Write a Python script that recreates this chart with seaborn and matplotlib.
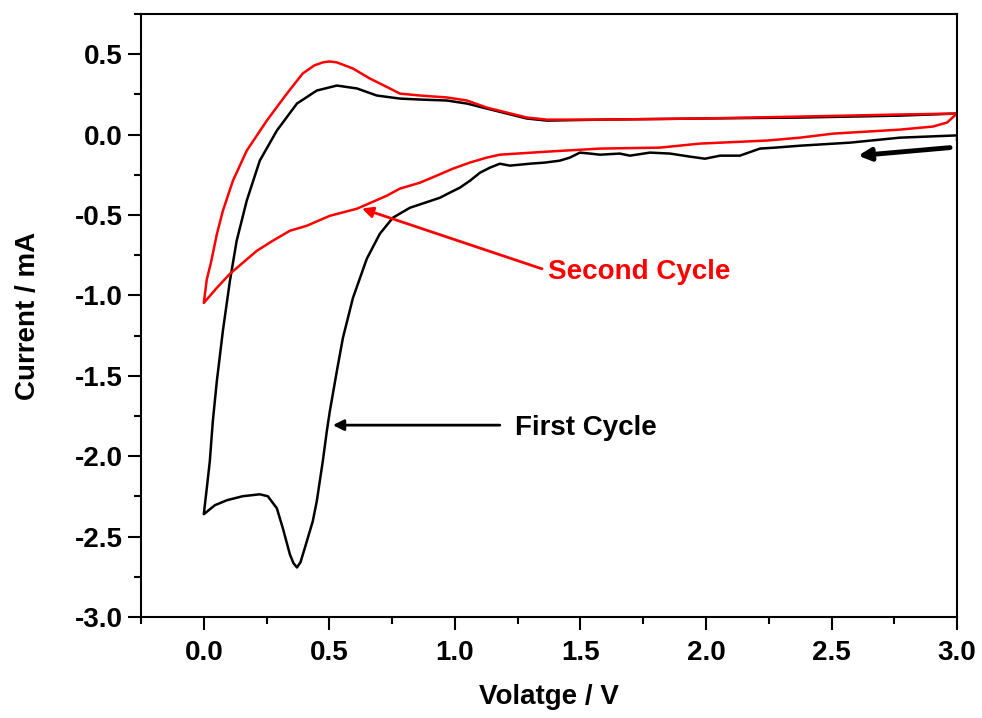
import numpy as np
import pandas as pd
import matplotlib
matplotlib.use("Agg")
import matplotlib.pyplot as plt
from matplotlib.ticker import MultipleLocator
import seaborn as sns

# first cycle (black), in scan order starting at 3.0 V
first_v = [3.0, 3.0, 2.773, 2.574, 2.375, 2.275, 2.215, 2.135, 2.056, 1.996, 1.936,
           1.857, 1.777, 1.697, 1.657, 1.578, 1.538, 1.498, 1.458, 1.418, 1.359,
           1.299, 1.219, 1.179, 1.139, 1.100, 1.060, 1.020, 0.980, 0.940, 0.821,
           0.753, 0.701, 0.649, 0.594, 0.554, 0.530, 0.502, 0.490, 0.474, 0.450,
           0.434, 0.402, 0.385, 0.371, 0.357, 0.343, 0.315, 0.291, 0.255, 0.223,
           0.155, 0.092, 0.044, 0.0,
           0.012, 0.024, 0.036, 0.052, 0.076, 0.104, 0.131, 0.171, 0.223, 0.291,
           0.371, 0.450, 0.530, 0.610, 0.689, 0.781, 0.861, 0.968, 1.048, 1.127,
           1.207, 1.287, 1.367, 1.578, 1.976, 2.375, 2.773, 3.0]
first_i = [-0.04, -0.005, -0.019, -0.050, -0.069, -0.081, -0.087, -0.131, -0.131, -0.150, -0.137,
           -0.118, -0.112, -0.131, -0.118, -0.125, -0.118, -0.112, -0.143, -0.162, -0.174,
           -0.181, -0.193, -0.181, -0.206, -0.237, -0.287, -0.330, -0.361, -0.393, -0.455,
           -0.517, -0.617, -0.773, -1.016, -1.265, -1.470, -1.720, -1.844, -2.031, -2.280,
           -2.405, -2.573, -2.660, -2.692, -2.665, -2.611, -2.449, -2.324, -2.249, -2.237,
           -2.249, -2.274, -2.305, -2.361,
           -2.199, -2.031, -1.782, -1.533, -1.221, -0.910, -0.660, -0.411, -0.162, 0.025,
           0.193, 0.274, 0.305, 0.287, 0.243, 0.224, 0.218, 0.212, 0.193, 0.162,
           0.131, 0.100, 0.087, 0.093, 0.100, 0.106, 0.118, 0.131]

# second cycle (red)
second_v = [3.0, 2.960, 2.904, 2.773, 2.506, 2.375, 2.243, 1.976, 1.817, 1.578, 1.367,
            1.179, 1.127, 1.060, 0.992, 0.928, 0.861, 0.781, 0.729, 0.610, 0.502,
            0.410, 0.343, 0.275, 0.211, 0.104, 0.052, 0.0,
            0.012, 0.028, 0.052, 0.076, 0.116, 0.171, 0.251, 0.331, 0.394, 0.440, 0.474,
            0.500, 0.530, 0.594, 0.661, 0.741, 0.781, 0.861, 0.968, 1.048, 1.127, 1.207,
            1.287, 1.367, 1.578, 1.976, 2.375, 2.773, 3.0]
second_i = [0.131, 0.075, 0.050, 0.031, 0.006, -0.019, -0.037, -0.056, -0.081, -0.087, -0.106,
            -0.125, -0.143, -0.174, -0.212, -0.255, -0.299, -0.336, -0.380, -0.461, -0.505,
            -0.567, -0.598, -0.660, -0.723, -0.866, -0.953, -1.047,
            -0.900, -0.800, -0.620, -0.474, -0.287, -0.100, 0.087, 0.255, 0.380, 0.430, 0.449,
            0.455, 0.449, 0.411, 0.349, 0.287, 0.255, 0.243, 0.231, 0.212, 0.168, 0.137,
            0.106, 0.093, 0.093, 0.100, 0.112, 0.125, 0.131]

sns.set_style("ticks")
plt.rcParams['font.family'] = ['Liberation Sans', 'DejaVu Sans']
plt.rcParams['font.weight'] = 'bold'
plt.rcParams['text.color'] = 'black'
plt.rcParams['axes.labelcolor'] = 'black'
plt.rcParams['xtick.color'] = 'black'
plt.rcParams['ytick.color'] = 'black'

fig = plt.figure(figsize=(9.82, 7.18), dpi=100)
ax = fig.add_axes([0.1436, 0.1407, 0.8310, 0.8398])

first = pd.DataFrame({'v': first_v, 'i': first_i})
second = pd.DataFrame({'v': second_v, 'i': second_i})
sns.lineplot(data=first, x='v', y='i', sort=False, estimator=None, color='black', lw=1.8, ax=ax)
sns.lineplot(data=second, x='v', y='i', sort=False, estimator=None, color='red', lw=1.8, ax=ax)

ax.set_xlim(-0.25, 3.0)
ax.set_ylim(-3.0, 0.75)
ax.xaxis.set_major_locator(MultipleLocator(0.5))
ax.xaxis.set_minor_locator(MultipleLocator(0.25))
ax.yaxis.set_major_locator(MultipleLocator(0.5))
ax.yaxis.set_minor_locator(MultipleLocator(0.25))
ax.xaxis.set_major_formatter(plt.FuncFormatter(lambda v, p: f"{v:.1f}"))
ax.yaxis.set_major_formatter(plt.FuncFormatter(lambda v, p: f"{v:.1f}"))
ax.tick_params(which='major', direction='out', length=9.4, width=1.5, labelsize=20, pad=4)
ax.tick_params(which='minor', direction='out', length=5, width=1.5)
ax.tick_params(axis='x', pad=7)
for lbl in ax.get_xticklabels() + ax.get_yticklabels():
    lbl.set_fontweight('bold')
for sp in ax.spines.values():
    sp.set_linewidth(1.5)
    sp.set_color('black')
sns.despine(ax=ax, top=False, right=False)

ax.set_xlabel('Volatge / V', fontsize=20, fontweight='bold', labelpad=13)
ax.set_ylabel('Current / mA', fontsize=20, fontweight='bold', labelpad=24)

# annotations
ax.annotate('', xy=(0.63, -0.46), xytext=(1.347, -0.835),
            arrowprops=dict(arrowstyle='-|>', color='red', lw=2, mutation_scale=16,
                            shrinkA=0, shrinkB=0))
ax.text(1.37, -0.854, 'Second Cycle', color='red', fontsize=20, fontweight='bold',
        ha='left', va='center')
ax.annotate('', xy=(0.514, -1.807), xytext=(1.179, -1.807),
            arrowprops=dict(arrowstyle='-|>', color='black', lw=2, mutation_scale=16,
                            shrinkA=0, shrinkB=0))
ax.text(1.24, -1.826, 'First Cycle', color='black', fontsize=20, fontweight='bold',
        ha='left', va='center')
ax.annotate('', xy=(2.606, -0.131), xytext=(2.972, -0.081),
            arrowprops=dict(arrowstyle='-|>', color='black', lw=3.5, mutation_scale=18,
                            shrinkA=0, shrinkB=0))

fig.savefig('out.png', dpi=100)
